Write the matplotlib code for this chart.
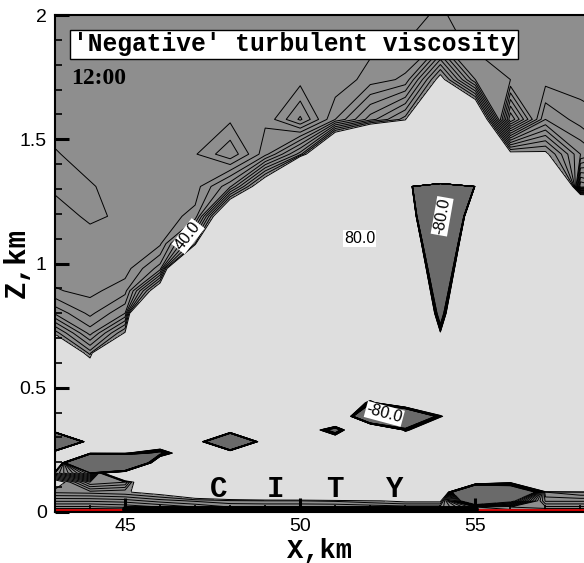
import numpy as np
import matplotlib
matplotlib.use("Agg")
import matplotlib.pyplot as plt
from matplotlib.ticker import MultipleLocator, FuncFormatter

# ---- data: grid nodes (km) and field values (turbulent viscosity) ----
x_km = [43, 44, 45, 46, 47, 48, 49, 50, 51, 52, 53, 54, 55, 56, 57, 58, 59]
z_km = [0.0, 0.02, 0.045, 0.08, 0.12, 0.157, 0.198, 0.237, 0.283, 0.33, 0.385,
        0.44, 0.5, 0.57, 0.64, 0.72, 0.80, 0.89, 0.98, 1.08, 1.19, 1.31, 1.44,
        1.58, 1.74, 1.91, 2.1]

# one row per z level (bottom -> top), one value per x node
visc = [
    [-10, -10, -10, -10, -10, -10, -10, -10, -10, -10, -10, -10, -10, -10, -10, -10, -10],
    [18, 18, 22, 30, 40, 50, 50, 50, 50, 52, 55, 55, 0, 10, 18, 18, 18],
    [42, 42, 45, 55, 62, 68, 70, 70, 72, 78, 85, 85, -200, -100, 42, 42, 42],
    [72, 74, 78, 90, 125, 150, 180, 190, 250, 300, 400, 400, -1000, -400, 60, 70, 70],
    [100, 30, 40, 200, 500, 500, 500, 500, 500, 500, 500, 500, 300, 100, 500, 500, 500],
    [20, -60, 300, 500, 500, 500, 500, 500, 500, 500, 500, 500, 500, 500, 500, 500, 500],
    [500, -1500, -1200, 500, 500, 500, 500, 500, 500, 500, 500, 500, 500, 500, 500, 500, 500],
    [500, 100, 100, -150, 500, 500, 500, 500, 500, 500, 500, 500, 500, 500, 500, 500, 500],
    [-2000, 500, 500, 500, 500, -1500, 500, 500, 500, 500, 500, 500, 500, 500, 500, 500, 500],
    [500, 500, 500, 500, 500, 500, 500, 500, -250, 1000, 20, 500, 500, 500, 500, 500, 500],
    [500, 500, 500, 500, 500, 500, 500, 500, 1000, -1100, -800, 50, 500, 500, 500, 500, 500],
    [500, 500, 500, 500, 500, 500, 500, 500, 500, 10, 500, 500, 500, 500, 500, 500, 500],
    [500, 500, 500, 500, 500, 500, 500, 500, 500, 500, 500, 500, 500, 500, 500, 500, 500],
    [300, 117, 500, 500, 500, 500, 500, 500, 500, 500, 500, 500, 500, 500, 500, 500, 500],
    [150, 65, 300, 500, 500, 500, 500, 500, 500, 500, 500, 500, 500, 500, 500, 500, 500],
    [76, 26, 82, 500, 500, 500, 500, 500, 500, 500, 2000, 100, 2000, 500, 500, 500, 500],
    [28, 7, 30, 400, 500, 500, 500, 500, 500, 500, 2000, -300, 2000, 500, 500, 500, 500],
    [1, -3, 6, 110, 500, 500, 500, 500, 500, 500, 2000, -690, 2000, 500, 500, 500, 500],
    [-5, -5, -5, 25, 300, 500, 500, 500, 500, 500, 2000, -1230, 2000, 500, 500, 500, 500],
    [-5, -5, -5, -2, 70, 500, 500, 500, 500, 500, 2000, -2170, 2000, 500, 500, 500, 500],
    [-5, -12, -8, -5, 3, 150, 400, 500, 500, 500, 2000, -4250, 2000, 500, 500, 400, 300],
    [-12, -11, -5, -5, -5, 28, 110, 400, 500, 500, 2000, -8000, 200, 500, 500, -40, -20],
    [-11, -5, -5, -5, -9, -28, 6, 55, 200, 300, 400, 80000, 500, 90, 85, 30, 10],
    [-5, -5, -5, -5, -5, -8, -2, -32, 10, 45, 75, 500, 150, -60, 20, 5, 0],
    [-5, -5, -5, -5, -5, -5, -5, -6, -8, 5, 12, 90, 10, 0, -4, -5, -5],
    [-5, -5, -5, -5, -5, -5, -5, -5, -5, -5, -1, 6, -5, -3, -5, -5, -5],
    [-5, -5, -5, -5, -5, -5, -5, -5, -5, -5, -5, -2, -5, -5, -5, -5, -5],
]

line_levels = list(range(-80, 81, 10))
fill_bounds = [-1e6, -80, 80, 1e6]
fill_colors = ["#6a6a6a", "#8e8e8e", "#dedede"]

city_start, city_end = 45, 55
city_letters = ["C", "I", "T", "Y"]
city_letter_x = [47.66, 49.3, 51.0, 52.7]

# ---- figure ----
mono = "Liberation Mono"
sans = "Liberation Sans"
serif = "Liberation Serif"

fig = plt.figure(figsize=(5.84, 5.63), dpi=100)
ax = fig.add_axes([55 / 584, 51 / 563, 1 - 55 / 584, (512 - 15) / 563])

X, Z = np.meshgrid(np.array(x_km, float), np.array(z_km, float))
V = np.array(visc, float)

ax.contourf(X, Z, V, levels=fill_bounds, colors=fill_colors)
ax.contour(X, Z, V, levels=line_levels, colors="k", linewidths=0.7,
           linestyles="solid")

ax.set_xlim(43, 58.1)
ax.set_ylim(0, 2)

# ground markings
ax.plot([43, city_start], [0.008, 0.008], color="#d40000", lw=2, zorder=4, clip_on=False)
ax.plot([city_end, 58.1], [0.008, 0.008], color="#d40000", lw=2, zorder=4, clip_on=False)
ax.plot([city_start, city_end], [0.012, 0.012], color="k", lw=5, zorder=5,
        solid_capstyle="round", clip_on=False)

for letter, xl in zip(city_letters, city_letter_x):
    ax.text(xl, 0.06, letter, family=mono, weight="bold", fontsize=21,
            ha="center", va="baseline", zorder=6)

# contour labels
lbl = dict(family=sans, fontsize=11.5, ha="center", va="center", zorder=7,
           bbox=dict(boxstyle="square,pad=0.05", fc="white", ec="none"))
ax.text(46.8, 1.11, "40.0", rotation=52, **lbl)
ax.text(51.7, 1.10, "80.0", rotation=0, **lbl)
ax.text(54.05, 1.19, "-80.0", rotation=80, **lbl)
ax.text(52.4, 0.395, "-80.0", rotation=-15, **lbl)

# axes styling
for s in ["left", "bottom", "top"]:
    ax.spines[s].set_linewidth(1.5)
    ax.spines[s].set_zorder(8)
ax.spines["right"].set_visible(False)

ax.xaxis.set_major_locator(MultipleLocator(5))
ax.xaxis.set_minor_locator(MultipleLocator(1))
ax.yaxis.set_major_locator(MultipleLocator(0.5))
ax.yaxis.set_minor_locator(MultipleLocator(0.1))
ax.yaxis.set_major_formatter(FuncFormatter(lambda v, p: "%g" % v))
ax.tick_params(which="major", direction="in", length=10, width=2.2,
               labelsize=14, pad=6, top=False, right=False)
ax.tick_params(axis="x", which="major", pad=4)
ax.tick_params(which="minor", direction="in", length=5, width=1.2,
               top=False, right=False)
for t in ax.get_xticklabels() + ax.get_yticklabels():
    t.set_family(sans)

fig.text(319.5 / 584, 1 - 558 / 563, "X,km", family=mono, weight="bold",
         fontsize=19.5, ha="center", va="baseline")
fig.text(17 / 584, 1 - 263 / 563, "Z,km", family=mono, weight="bold",
         fontsize=21, ha="center", va="center", rotation=90)

fig.text(72.6 / 584, 1 - 44.5 / 563, "'Negative' turbulent viscosity",
         family=mono, weight="bold", fontsize=17.7, ha="left", va="center",
         bbox=dict(boxstyle="square,pad=0.12", fc="white", ec="black", lw=1))
fig.text(71 / 584, 1 - 78.5 / 563, "12:00", family=serif, weight="bold",
         fontsize=17, ha="left", va="center")

fig.savefig("out.png", dpi=100)
